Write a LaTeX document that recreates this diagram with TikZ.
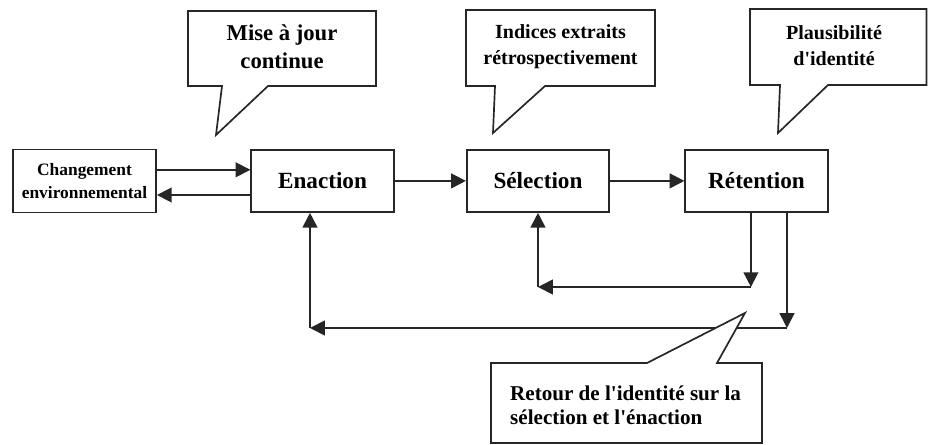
\documentclass[tikz,border=0pt]{standalone}
\usepackage{fontspec}
\setmainfont{Liberation Serif}
\usetikzlibrary{arrows.meta}

\begin{document}
\begin{tikzpicture}[
  boite/.style={draw=black!85, line width=1.6pt, minimum width=4.75cm, minimum height=2.07cm, font=\bfseries\fontsize{22}{26}\selectfont},
  fleche/.style={draw=black!85, line width=1.6pt, -{Triangle[length=14pt,width=14pt]}},
  bulle/.style={draw=black!85, line width=1.6pt, fill=white, line join=miter},
  texte/.style={align=center, inner sep=0pt, font=\bfseries\fontsize{19}{24.5}\selectfont}]
  \useasboundingbox (0,0) rectangle (30.933,-14.833);

  % les quatre boites
  \node[boite, minimum width=4.77cm, minimum height=2.1cm, align=center, font=\bfseries\fontsize{16.5}{21.5}\selectfont] (env) at (2.817,-6.03) {Changement\\environnemental};
  \node[boite] (enact) at (10.75,-6.03) {Enaction};
  \node[boite] (sel) at (17.933,-6.03) {Sélection};
  \node[boite] (ret) at (25.217,-6.03) {Rétention};

  \draw[fleche] ([yshift=0.37cm]env.east) to ([yshift=0.37cm]enact.west);
  \draw[fleche] ([yshift=-0.47cm]enact.west) to ([yshift=-0.47cm]env.east);
  \draw[fleche] (enact) to (sel);
  \draw[fleche] (sel) to (ret);

  % boucles de retour
  \coordinate (rin) at (25.03,-9.567);
  \coordinate (sin) at (sel.south |- rin);
  \coordinate (rout) at (26.233,-10.933);
  \coordinate (eout) at (10.333,-10.933);
  \draw[fleche] (ret.south -| rin) to (rin);
  \draw[fleche] (rin) to (sin);
  \draw[fleche] (sin) to (sel.south);
  \draw[fleche] (ret.south -| rout) to (rout);
  \draw[fleche] (rout) to (eout);
  \draw[fleche] (eout) to (enact.south -| eout);

  % bulles
  \draw[bulle] (6.267,-0.367) -- (12.533,-0.367) -- (12.533,-2.867) -- (8.933,-2.867) -- (7.2,-4.5) -- (7.4,-2.867) -- (6.267,-2.867) -- cycle;
  \draw[bulle] (15.533,-0.333) -- (21.833,-0.333) -- (21.833,-2.867) -- (18.167,-2.867) -- (16.433,-4.433) -- (16.5,-2.867) -- (15.533,-2.867) -- cycle;
  \draw[bulle] (25.0,-0.3) -- (30.883,-0.3) -- (30.883,-2.833) -- (27.6,-2.833) -- (25.933,-4.433) -- (26.0,-2.833) -- (25.0,-2.833) -- cycle;
  \draw[bulle] (16.367,-12.1) -- (21.567,-12.1) -- (24.833,-10.433) -- (23.9,-12.1) -- (25.4,-12.1) -- (25.4,-14.767) -- (16.367,-14.767) -- cycle;

  \node[texte, font=\bfseries\fontsize{21.5}{26.5}\selectfont] (maj) at (9.4,-1.55) {Mise à jour\\continue};
  \node[texte] (indices) at (18.683,-1.55) {Indices extraits\\rétrospectivement};
  \node[texte] (plaus) at (27.8,-1.52) {Plausibilité\\d\textquotesingle identité};
  \node[texte, align=left, anchor=west, font=\bfseries\fontsize{20}{22.5}\selectfont] (retour) at (17.0,-13.5) {Retour de l\textquotesingle identité sur la\\sélection et l\textquotesingle énaction};
\end{tikzpicture}
\end{document}
